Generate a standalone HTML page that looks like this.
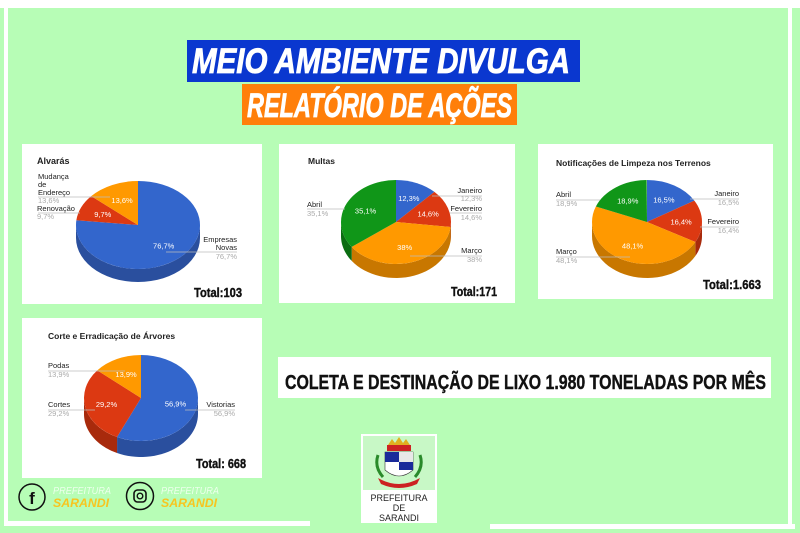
<!DOCTYPE html>
<html><head><meta charset="utf-8"><style>
html,body{margin:0;padding:0;background:#b7fdb6;}
svg{display:block}
</style></head><body>
<svg id="s" width="800" height="533" viewBox="0 0 800 533" xmlns="http://www.w3.org/2000/svg" font-family="Liberation Sans, sans-serif">
<rect width="800" height="533" fill="#b7fdb6"/>
<rect x="0" y="0" width="800" height="8" fill="#fff"/>
<rect x="4" y="0" width="4" height="526" fill="#fff"/>
<rect x="5" y="521" width="305" height="5" fill="#fff"/>
<rect x="788" y="0" width="4" height="529" fill="#fff"/>
<rect x="490" y="524" width="305" height="5" fill="#fff"/>

<rect x="187" y="40" width="393" height="42" fill="#0a37cf"/>
<text x="192" y="73" font-size="35" font-weight="bold" font-style="italic" fill="#fff" stroke="#fff" stroke-width="0.8" textLength="378" lengthAdjust="spacingAndGlyphs">MEIO AMBIENTE DIVULGA</text>
<rect x="242" y="84" width="275" height="41" fill="#ff7f0a"/>
<text x="247" y="117" font-size="34" font-weight="bold" font-style="italic" fill="#fff" stroke="#fff" stroke-width="0.8" textLength="265" lengthAdjust="spacingAndGlyphs">RELATÓRIO DE AÇÕES</text>

<rect x="22" y="144" width="240" height="160" fill="#fff"/>
<rect x="279" y="144" width="236" height="159" fill="#fff"/>
<rect x="538" y="144" width="235" height="155" fill="#fff"/>
<rect x="22" y="318" width="240" height="160" fill="#fff"/>
<rect x="278" y="357" width="493" height="41" fill="#fff"/>
<text x="285" y="389" font-size="20" font-weight="bold" fill="#111" stroke="#111" stroke-width="0.4" textLength="481" lengthAdjust="spacingAndGlyphs">COLETA E DESTINAÇÃO DE LIXO 1.980 TONELADAS POR MÊS</text>

<g id="pies"></g>

<g font-size="7.5" fill="#222">
<text x="37" y="164" font-size="9" font-weight="bold">Alvarás</text>
<text x="38" y="179">Mudança</text><text x="38" y="187">de</text><text x="38" y="195">Endereço</text>
<text x="38" y="203" fill="#aaa">13,6%</text>
<text x="37" y="211">Renovação</text>
<text x="37" y="219" fill="#aaa">9,7%</text>
<text x="237" y="242" text-anchor="end">Empresas</text><text x="237" y="250" text-anchor="end">Novas</text>
<text x="237" y="259" text-anchor="end" fill="#aaa">76,7%</text>
<line x1="38" y1="197" x2="110" y2="197" stroke="#bbb" stroke-width="0.7"/>
<line x1="38" y1="213" x2="80" y2="213" stroke="#bbb" stroke-width="0.7"/>
<line x1="166" y1="252" x2="237" y2="252" stroke="#bbb" stroke-width="0.7"/>

<text x="308" y="164" font-size="8.5" font-weight="bold">Multas</text>
<text x="307" y="207">Abril</text><text x="307" y="216" fill="#aaa">35,1%</text>
<text x="482" y="193" text-anchor="end">Janeiro</text><text x="482" y="201" text-anchor="end" fill="#aaa">12,3%</text>
<text x="482" y="211" text-anchor="end">Fevereiro</text><text x="482" y="220" text-anchor="end" fill="#aaa">14,6%</text>
<text x="482" y="253" text-anchor="end">Março</text><text x="482" y="262" text-anchor="end" fill="#aaa">38%</text>
<line x1="307" y1="209" x2="345" y2="209" stroke="#bbb" stroke-width="0.7"/>
<line x1="432" y1="196" x2="482" y2="196" stroke="#bbb" stroke-width="0.7"/>
<line x1="450" y1="213" x2="482" y2="213" stroke="#bbb" stroke-width="0.7"/>
<line x1="410" y1="256" x2="482" y2="256" stroke="#bbb" stroke-width="0.7"/>

<text x="556" y="166" font-size="8.5" font-weight="bold">Notificações de Limpeza nos Terrenos</text>
<text x="556" y="197">Abril</text><text x="556" y="206" fill="#aaa">18,9%</text>
<text x="739" y="196" text-anchor="end">Janeiro</text><text x="739" y="205" text-anchor="end" fill="#aaa">16,5%</text>
<text x="739" y="224" text-anchor="end">Fevereiro</text><text x="739" y="233" text-anchor="end" fill="#aaa">16,4%</text>
<text x="556" y="254">Março</text><text x="556" y="263" fill="#aaa">48,1%</text>
<line x1="556" y1="200" x2="600" y2="200" stroke="#bbb" stroke-width="0.7"/>
<line x1="690" y1="199" x2="739" y2="199" stroke="#bbb" stroke-width="0.7"/>
<line x1="700" y1="227" x2="739" y2="227" stroke="#bbb" stroke-width="0.7"/>
<line x1="556" y1="257" x2="630" y2="257" stroke="#bbb" stroke-width="0.7"/>

<text x="48" y="339" font-size="8.5" font-weight="bold">Corte e Erradicação de Árvores</text>
<text x="48" y="368">Podas</text><text x="48" y="377" fill="#aaa">13,9%</text>
<text x="48" y="407">Cortes</text><text x="48" y="416" fill="#aaa">29,2%</text>
<text x="235" y="407" text-anchor="end">Vistorias</text><text x="235" y="416" text-anchor="end" fill="#aaa">56,9%</text>
<line x1="48" y1="371" x2="125" y2="371" stroke="#bbb" stroke-width="0.7"/>
<line x1="48" y1="410" x2="95" y2="410" stroke="#bbb" stroke-width="0.7"/>
<line x1="185" y1="410" x2="235" y2="410" stroke="#bbb" stroke-width="0.7"/>
</g>

<g font-weight="bold" fill="#111" stroke="#111" stroke-width="0.4" font-size="13">
<text x="194" y="297" textLength="48" lengthAdjust="spacingAndGlyphs">Total:103</text>
<text x="451" y="296" textLength="46" lengthAdjust="spacingAndGlyphs">Total:171</text>
<text x="703" y="289" textLength="58" lengthAdjust="spacingAndGlyphs">Total:1.663</text>
<text x="196" y="468" textLength="50" lengthAdjust="spacingAndGlyphs">Total: 668</text>
</g>

<g>
<circle cx="32" cy="497" r="13" fill="none" stroke="#111" stroke-width="1.5"/>
<text x="32" y="504" text-anchor="middle" font-size="17" font-weight="bold" fill="#111">f</text>
<circle cx="140" cy="496" r="13.5" fill="none" stroke="#111" stroke-width="1.5"/>
<rect x="134" y="490" width="12" height="12" rx="3.5" fill="none" stroke="#111" stroke-width="1.6"/>
<circle cx="140" cy="496" r="2.8" fill="none" stroke="#111" stroke-width="1.4"/>
<text x="53" y="494" font-size="10" font-style="italic" fill="#ecffec" textLength="58" lengthAdjust="spacingAndGlyphs">PREFEITURA</text>
<text x="53" y="507" font-size="12" font-weight="bold" font-style="italic" fill="#f7c520" textLength="56" lengthAdjust="spacingAndGlyphs">SARANDI</text>
<text x="161" y="494" font-size="10" font-style="italic" fill="#ecffec" textLength="58" lengthAdjust="spacingAndGlyphs">PREFEITURA</text>
<text x="161" y="507" font-size="12" font-weight="bold" font-style="italic" fill="#f7c520" textLength="56" lengthAdjust="spacingAndGlyphs">SARANDI</text>
</g>

<g>
<rect x="361" y="434" width="76" height="89" fill="#fff"/>
<rect x="363" y="436" width="72" height="54" fill="#c8f8c6"/>
<path d="M385 452 h28 v18 q-14 12 -28 0z" fill="#fff" stroke="#333" stroke-width="0.6"/>
<rect x="385" y="452" width="14" height="10" fill="#1a2a9a"/>
<rect x="399" y="462" width="14" height="8" fill="#1a2a9a"/>
<rect x="399" y="452" width="14" height="10" fill="#e8e8e8"/>
<path d="M388 445 l4 -6 l3 4 l4 -6 l4 6 l3 -4 l4 6z" fill="#e0b020"/>
<rect x="387" y="445" width="24" height="6" fill="#cc2222"/>
<path d="M378 478 q21 12 42 0 l-3 6 q-18 8 -36 0z" fill="#cc2222"/>
<path d="M378 455 q-4 12 5 22 M420 455 q4 12 -5 22" stroke="#2a8a2a" stroke-width="3" fill="none"/>
<text x="399" y="501" text-anchor="middle" font-size="9" fill="#222">PREFEITURA</text>
<text x="399" y="511" text-anchor="middle" font-size="9" fill="#222">DE</text>
<text x="399" y="521" text-anchor="middle" font-size="9" fill="#222">SARANDI</text>
</g>
</svg>
<script>
var NS="http://www.w3.org/2000/svg";
var cols={b:["#3366cc","#2a4f9e"],r:["#dc3912","#a82a0c"],o:["#ff9900","#c87700"],g:["#109618","#0b6d11"]};
var pies=[
 {cx:138,cy:225,rx:62,ry:44,d:13,s:[[76.7,"b","76,7%"],[9.7,"r","9,7%"],[13.6,"o","13,6%"]]},
 {cx:396,cy:222,rx:55,ry:42,d:14,s:[[12.3,"b","12,3%"],[14.6,"r","14,6%"],[38,"o","38%"],[35.1,"g","35,1%"]]},
 {cx:647,cy:222,rx:55,ry:42,d:14,s:[[16.5,"b","16,5%"],[16.4,"r","16,4%"],[48.1,"o","48,1%"],[18.9,"g","18,9%"]]},
 {cx:141,cy:398,rx:57,ry:43,d:16,s:[[56.9,"b","56,9%"],[29.2,"r","29,2%"],[13.9,"o","13,9%"]]}
];
var g=document.getElementById("pies");
function el(t,a){var e=document.createElementNS(NS,t);for(var k in a)e.setAttribute(k,a[k]);g.appendChild(e);return e;}
function pt(p,a,dy){return [p.cx+p.rx*Math.cos(a),p.cy+p.ry*Math.sin(a)+(dy||0)];}
pies.forEach(function(p){
 var a=-Math.PI/2,arcs=[];
 p.s.forEach(function(s){var b=a+s[0]/100*2*Math.PI;arcs.push([a,b,s]);a=b;});
 arcs.forEach(function(r){
  for(var k=0;k<2;k++){
   var lo=Math.max(r[0],k*2*Math.PI),hi=Math.min(r[1],k*2*Math.PI+Math.PI);
   if(hi<=lo)continue;
   var n=30,d="";
   for(var i=0;i<=n;i++){var q=pt(p,lo+(hi-lo)*i/n);d+=(i?"L":"M")+q[0].toFixed(2)+" "+q[1].toFixed(2);}
   for(var i=n;i>=0;i--){var q=pt(p,lo+(hi-lo)*i/n,p.d);d+="L"+q[0].toFixed(2)+" "+q[1].toFixed(2);}
   el("path",{d:d+"Z",fill:cols[r[2][1]][1]});
  }
 });
 arcs.forEach(function(r){
  var s=pt(p,r[0]),e=pt(p,r[1]),lg=(r[1]-r[0])>Math.PI?1:0;
  el("path",{d:"M"+p.cx+" "+p.cy+"L"+s[0]+" "+s[1]+"A"+p.rx+" "+p.ry+" 0 "+lg+" 1 "+e[0]+" "+e[1]+"Z",fill:cols[r[2][1]][0]});
 });
 arcs.forEach(function(r){
  var m=(r[0]+r[1])/2,f=0.62;
  var x=p.cx+p.rx*f*Math.cos(m),y=p.cy+p.ry*f*Math.sin(m)+3;
  var t=el("text",{x:x,y:y,"text-anchor":"middle","font-size":"7.5",fill:"#fff"});t.textContent=r[2][2];
 });
});
</script>
</body></html>
